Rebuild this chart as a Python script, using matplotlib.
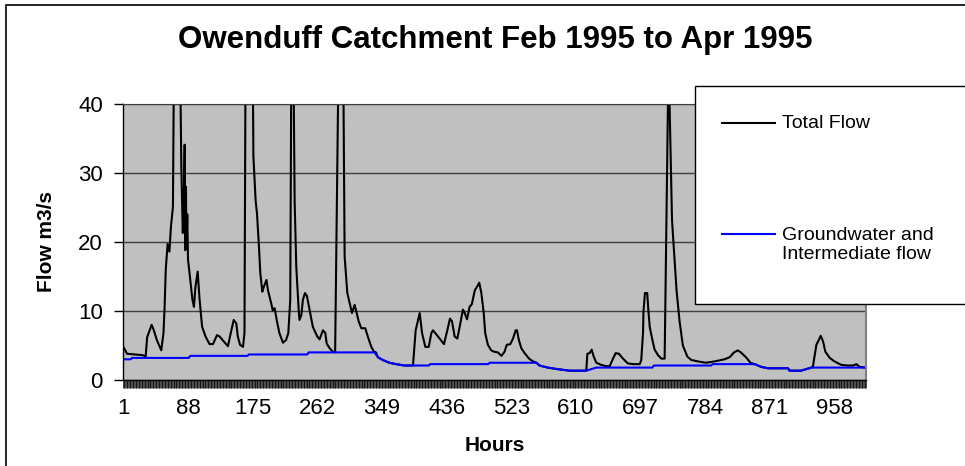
import numpy as np
import matplotlib
matplotlib.use("Agg")
import matplotlib.pyplot as plt
from matplotlib.patches import Rectangle
from matplotlib.lines import Line2D

plt.rcParams['font.family'] = ['Liberation Sans', 'DejaVu Sans']

# hourly flow, vertices (hour, m3/s); peaks above 40 are off-scale
tf_hours = [1, 6, 27, 31, 33, 39, 42, 46, 52, 55, 56.5, 58, 60.5, 63, 65, 67.7,
            69, 73, 77.5, 79, 81, 82.5, 83.5, 84.3, 85.2, 86, 87, 88, 90, 94, 96,
            98, 101, 103.6, 107, 111.6, 117, 121.6, 127, 130.6, 136, 141.8, 145.5,
            149.5, 153, 155, 158, 162, 164, 165.5, 170, 175, 176, 179, 180.8,
            183.5, 185.3, 188, 190, 193.6, 195.6, 200, 202, 204.6, 207.7, 211,
            215.8, 220, 223, 225.6, 227, 228.5, 230, 231.5, 233.7, 237, 238,
            240.5, 242.6, 245.4, 248, 251.7, 256, 262, 265, 269.6, 272.8, 274.6,
            278.6, 283, 286, 291, 294, 297, 298.8, 302.4, 305.6, 308.7, 312.3,
            315, 317.7, 321.3, 326.6, 330, 334.7, 338.3, 341, 343.6, 350, 359,
            368, 379, 390.8, 394.4, 399.8, 403, 407.4, 412, 415.5, 417.7, 424.5,
            432.5, 437, 440.6, 443.3, 446.9, 450.5, 453.6, 458, 460.4, 463.5, 467,
            470, 474, 477.4, 480, 482.8, 486, 488, 491.6, 496, 500, 505, 510, 514,
            517, 521.8, 525.4, 529, 530.7, 533.3, 536.6, 541, 547, 552.3, 557,
            561, 572, 583.7, 601.6, 624, 625.5, 628.6, 631.3, 634, 637.6, 644,
            651, 655.5, 660, 663.6, 668, 673.4, 680, 687, 696, 698, 700.4, 701,
            703, 706, 707.6, 709.4, 713, 716, 720.6, 725, 729.5, 734, 736, 739.4,
            743, 745.5, 749.6, 754, 760, 765.4, 774, 785, 797, 810, 817, 822.8,
            828, 832, 839, 845, 850.6, 859.6, 868.6, 895.5, 897.7, 913, 927, 929,
            933.7, 937, 939.5, 942.7, 945.8, 951.7, 958, 967, 976, 983, 987.5,
            992, 1000]
tf_vals = [4.8, 3.8, 3.6, 3.4, 6.2, 8.0, 7.2, 5.8, 4.3, 6.8, 10.6, 15.9, 19.7,
           18.6, 22.2, 25.1, 45, 62, 45, 30.9, 21.3, 27, 34.1, 18.8, 28, 19, 24,
           17.5, 15.5, 11.6, 10.6, 13.5, 15.7, 11.6, 7.7, 6.3, 5.2, 5.2, 6.5, 6.3,
           5.6, 4.9, 6.8, 8.7, 8.2, 6.3, 5.1, 4.8, 6.8, 48, 75, 48, 32.4, 26, 24.2,
           19.3, 15.5, 12.8, 13.5, 14.5, 13.0, 11.1, 10.1, 10.4, 8.5, 6.8, 5.4,
           5.8, 6.8, 11.6, 45, 58, 45, 26, 16.4, 10.1, 8.7, 9.4, 11.6, 12.6, 12.2,
           10.1, 7.7, 6.3, 5.9, 7.2, 6.8, 5.3, 4.6, 4.1, 4.0, 50, 62, 45, 17.9,
           12.6, 11.1, 9.7, 10.9, 9.7, 8.5, 7.5, 7.5, 6.3, 4.8, 4.1, 4.0, 3.3,
           2.9, 2.5, 2.3, 2.1, 2.1, 7.2, 9.7, 6.8, 4.8, 4.8, 6.8, 7.2, 6.3, 5.2,
           7.2, 8.9, 8.5, 6.3, 6.0, 7.7, 10.2, 9.7, 8.8, 10.6, 11.0, 13.0, 13.6,
           14.1, 12.6, 9.7, 6.8, 5.1, 4.3, 4.1, 4.0, 3.5, 4.1, 5.1, 5.2, 6.0, 7.2,
           7.2, 5.8, 4.6, 3.9, 3.1, 2.7, 2.5, 2.1, 1.8, 1.6, 1.35, 1.35, 3.8, 3.9,
           4.4, 3.4, 2.5, 2.2, 2.0, 2.0, 3.1, 3.9, 3.8, 3.1, 2.4, 2.3, 2.3, 2.9,
           6.8, 9.9, 12.6, 12.6, 10.1, 7.7, 5.8, 4.4, 3.6, 3.1, 3.1, 40.6, 40.6,
           23.2, 17.2, 13.0, 8.5, 5.0, 3.4, 2.9, 2.7, 2.5, 2.7, 3.0, 3.3, 4.0,
           4.3, 4.0, 3.3, 2.5, 2.3, 1.9, 1.7, 1.7, 1.35, 1.35, 1.8, 1.9, 5.1, 5.8,
           6.4, 5.6, 4.1, 3.2, 2.7, 2.2, 2.1, 2.1, 2.3, 1.9, 1.8]

gw_hours = [1, 11, 12.5, 89, 91, 168, 170, 248.5, 250.5, 339, 343.6, 350, 359,
            368, 379, 412, 414, 492, 494, 557, 561, 572, 583.7, 601.6, 624,
            637.6, 713, 715, 792, 794, 850.6, 859.6, 868.6, 895.5, 897.7, 913,
            927, 1000]
gw_vals = [3.0, 3.0, 3.2, 3.2, 3.5, 3.5, 3.7, 3.7, 4.0, 4.0, 3.3, 2.9, 2.5, 2.3,
           2.1, 2.1, 2.3, 2.3, 2.5, 2.5, 2.1, 1.8, 1.6, 1.35, 1.35, 1.8, 1.8, 2.1,
           2.1, 2.3, 2.3, 1.9, 1.7, 1.7, 1.35, 1.35, 1.8, 1.8]

n_hours = 1000
tick_hours = [1, 88, 175, 262, 349, 436, 523, 610, 697, 784, 871, 958]
tick_labels = ["1", "88", "175", "262", "349", "436", "523", "610", "697",
               "784", "871", "958"]

fig = plt.figure(figsize=(9.65, 4.66), dpi=100)
ax = fig.add_axes([123/965, 86/466, 743/965, 276/466])
ax.set_facecolor("#C0C0C0")

l1, = ax.plot(tf_hours, tf_vals, color="black", lw=1.5)
l2, = ax.plot(gw_hours, gw_vals, color="#0000FF", lw=1.5)

ax.set_xlim(0.5, n_hours + 0.5)
ax.set_ylim(0, 40)
ax.set_yticks([0, 10, 20, 30, 40])
ax.set_xticks(tick_hours)
ax.set_xticklabels(tick_labels)
ax.set_xticks(np.arange(0.5, n_hours + 1, 1), minor=True)
ax.tick_params(axis="y", direction="out", length=6.5, width=1, pad=8,
               labelsize=16, color="black")
ax.tick_params(axis="x", which="major", length=0, pad=13, labelsize=16)
ax.tick_params(axis="x", which="minor", direction="out", length=5.5, width=0.5,
               color="black")

ax.grid(axis="y", color="#404040", lw=1)
ax.set_axisbelow(True)
for side in ("left", "bottom"):
    ax.spines[side].set_color("black")
    ax.spines[side].set_linewidth(1)
ax.spines["right"].set_color("#808080")
ax.spines["right"].set_linewidth(1.5)
ax.spines["top"].set_color("#404040")

ax.set_ylabel("Flow m3/s", fontsize=15, fontweight="bold", va="center")
ax.yaxis.set_label_coords(-0.1036, 0.5)
ax.set_xlabel("Hours", fontsize=15, fontweight="bold", va="center")
ax.xaxis.set_label_coords(0.5, -0.239)

fig.text(495/965, 1 - 40/466, "Owenduff Catchment Feb 1995 to Apr 1995",
         fontsize=22.5, fontweight="bold", ha="center", va="center")

# chart area border (right and bottom run off the picture)
fig.patches.append(Rectangle((6/965, -0.05), 1.0, 1 - 4.7/466 + 0.05,
                             transform=fig.transFigure, fill=False,
                             ec="black", lw=1.2))

# legend box, drawn by hand so it can run off the right edge like the original
fig.patches.append(Rectangle((695/965, 1 - 304/466), 0.4, (304 - 86)/466,
                             transform=fig.transFigure, fc="white",
                             ec="black", lw=1, zorder=5))
for line, ypx, label in [(l1, 123, "Total Flow"),
                         (l2, 234, "Groundwater and\nIntermediate flow")]:
    y = 1 - ypx/466
    fig.lines.append(Line2D([722/965, 775/965], [y, y], transform=fig.transFigure,
                            color=line.get_color(), lw=1.5, zorder=6))
    fig.text(782/965, y + (0 if "\n" not in label else -11/466), label,
             fontsize=14, ha="left", va="center", linespacing=1.15, zorder=6)

fig.savefig("out.png", dpi=100)
